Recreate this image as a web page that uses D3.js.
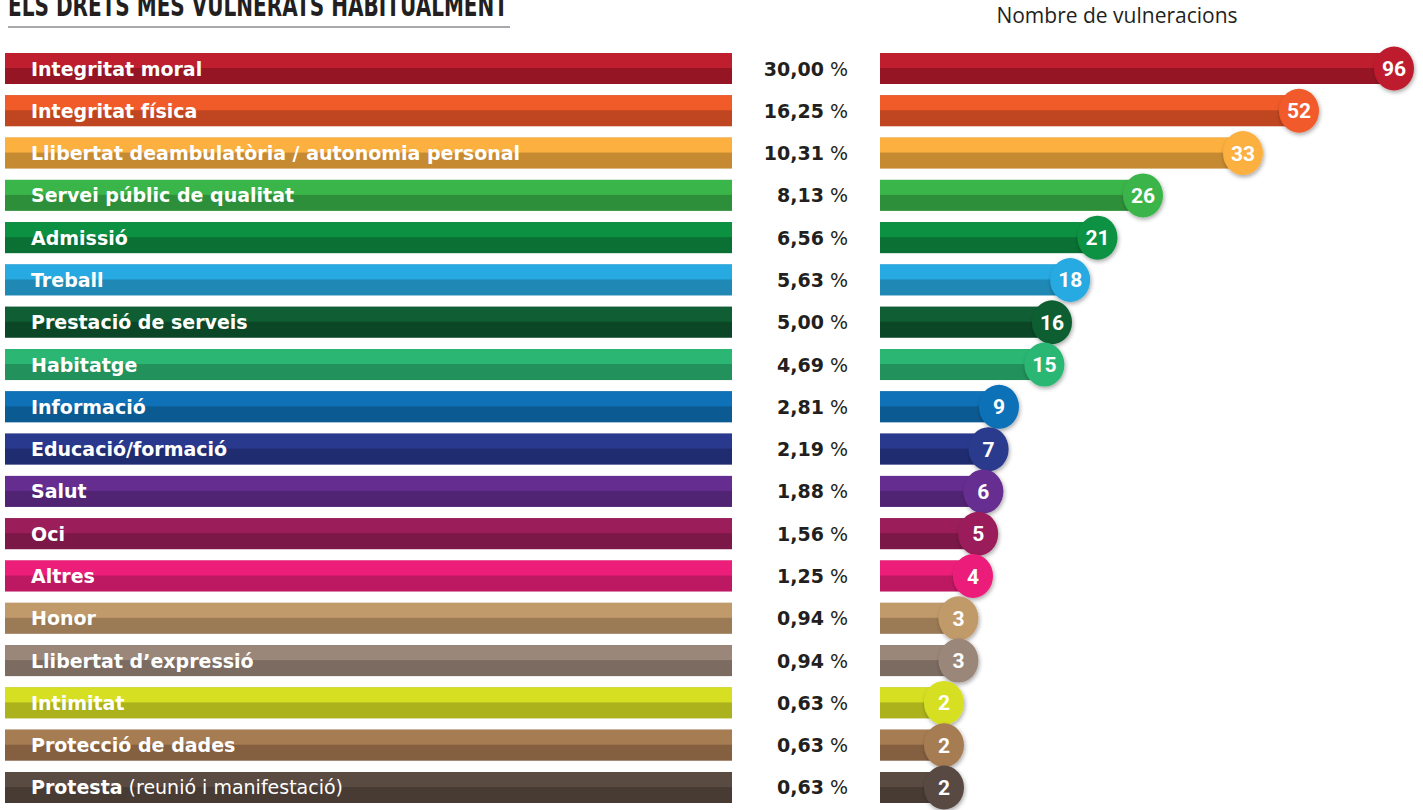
<!DOCTYPE html>
<html>
<head>
<meta charset="utf-8">
<script src="https://cdn.jsdelivr.net/npm/d3@7"></script>
<style>
  body { margin: 0; background: #fff; }
  svg { display: block; }
</style>
</head>
<body>
<div id="okvir"></div>
<script>
// dades
var drets = ["Integritat moral", "Integritat física", "Llibertat deambulatòria / autonomia personal",
  "Servei públic de qualitat", "Admissió", "Treball", "Prestació de serveis", "Habitatge",
  "Informació", "Educació/formació", "Salut", "Oci", "Altres", "Honor",
  "Llibertat d\u2019expressió", "Intimitat", "Protecció de dades", "Protesta"];
var notes = ["", "", "", "", "", "", "", "", "", "", "", "", "", "", "", "", "", " (reunió i manifestació)"];
var percentatges = ["30,00", "16,25", "10,31", "8,13", "6,56", "5,63", "5,00", "4,69", "2,81",
  "2,19", "1,88", "1,56", "1,25", "0,94", "0,94", "0,63", "0,63", "0,63"];
var vulneracions = [96, 52, 33, 26, 21, 18, 16, 15, 9, 7, 6, 5, 4, 3, 3, 2, 2, 2];
var colorsClars = ["#be1e2d", "#f15a29", "#fbb040", "#3ab54a", "#0c9142", "#27aae1", "#105e33", "#2bb673",
  "#0f71b8", "#293a8e", "#662d91", "#9b1e5a", "#ec1e7a", "#c19a6b", "#9a877a", "#d7df23", "#a67c52", "#594a42"];
var colorsFoscos = ["#961525", "#bf4620", "#c68a33", "#2e8f3a", "#0a7033", "#1f88b4", "#0b4626", "#22915b",
  "#0c5a92", "#1f2d70", "#512473", "#7b1848", "#bd1862", "#9a7b55", "#7b6b61", "#abb21c", "#845f40", "#473b34"];

var width = 1423, height = 810;
var files = drets.map((d, i) => ({ dret: d, nota: notes[i], pct: percentatges[i], n: vulneracions[i], clar: colorsClars[i], fosc: colorsFoscos[i] }));

var svg = d3.select("#okvir").append("svg")
  .attr("width", width)
  .attr("height", height);

// ombra dels cercles
svg.append("defs").append("filter")
  .attr("id", "ombra")
  .attr("x", "-50%").attr("y", "-50%").attr("width", "200%").attr("height", "200%")
  .append("feDropShadow")
  .attr("dx", 1).attr("dy", 2).attr("stdDeviation", 2.2)
  .attr("flood-color", "#000").attr("flood-opacity", 0.35);

// escala vertical de les files
var y = d3.scaleBand()
  .domain(drets)
  .range([53, 803])
  .paddingInner(0.267)
  .paddingOuter(0);

// escala horitzontal del nombre de vulneracions (el disseny original no és lineal)
var x = d3.scaleLinear()
  .domain([0, 2, 4, 9, 16, 26, 33, 52, 96])
  .range([918, 944, 973, 999, 1052, 1143, 1243, 1299, 1394]);

// títol
svg.append("text")
  .attr("x", 8)
  .attr("y", 16)
  .attr("textLength", 500)
  .attr("lengthAdjust", "spacingAndGlyphs")
  .style("font-family", "'DejaVu Sans', sans-serif")
  .style("font-weight", "bold")
  .style("font-size", "30px")
  .style("fill", "#231f20")
  .text("ELS DRETS MÉS VULNERATS HABITUALMENT");

svg.append("line")
  .attr("x1", 8).attr("x2", 510)
  .attr("y1", 27).attr("y2", 27)
  .attr("stroke", "#a7a9ac")
  .attr("stroke-width", 2);

svg.append("text")
  .attr("x", 1117)
  .attr("y", 23)
  .attr("text-anchor", "middle")
  .style("font-family", "'Open Sans', sans-serif")
  .style("font-size", "21px")
  .style("fill", "#231f20")
  .text("Nombre de vulneracions");

var fila = svg.selectAll("g.fila")
  .data(files)
  .enter()
  .append("g")
  .attr("class", "fila")
  .attr("transform", d => "translate(0," + y(d.dret) + ")");

var bh = y.bandwidth();

// barres esquerres
fila.append("rect")
  .attr("x", 5).attr("width", 727)
  .attr("height", bh)
  .attr("fill", d => d.fosc);
fila.append("rect")
  .attr("x", 5).attr("width", 727)
  .attr("height", bh / 2 - 0.5)
  .attr("fill", d => d.clar);

var etiqueta = fila.append("text")
  .attr("x", 31)
  .attr("y", bh / 2 + 7)
  .style("font-family", "'DejaVu Sans', sans-serif")
  .style("font-size", "19px")
  .style("fill", "#fff");
etiqueta.append("tspan").style("font-weight", "bold").text(d => d.dret);
etiqueta.append("tspan").style("font-weight", "normal").text(d => d.nota);

// percentatges
var pct = fila.append("text")
  .attr("x", 848)
  .attr("y", bh / 2 + 7)
  .attr("text-anchor", "end")
  .style("font-family", "'DejaVu Sans', sans-serif")
  .style("font-size", "19px")
  .style("fill", "#231f20");
pct.append("tspan").style("font-weight", "bold").text(d => d.pct);
pct.append("tspan").style("font-weight", "normal").text(" %");

// barres dretes
fila.append("rect")
  .attr("x", x(0) - 38)
  .attr("width", d => x(d.n) - x(0) + 38)
  .attr("height", bh)
  .attr("fill", d => d.fosc);
fila.append("rect")
  .attr("x", x(0) - 38)
  .attr("width", d => x(d.n) - x(0) + 38)
  .attr("height", bh / 2 - 0.5)
  .attr("fill", d => d.clar);

fila.append("ellipse")
  .attr("cx", d => x(d.n))
  .attr("cy", bh / 2)
  .attr("rx", 20)
  .attr("ry", 22)
  .attr("fill", d => d.clar)
  .attr("filter", "url(#ombra)");

fila.append("text")
  .attr("x", d => x(d.n))
  .attr("y", bh / 2 + 7.5)
  .attr("text-anchor", "middle")
  .style("font-family", "Roboto, sans-serif")
  .style("font-weight", "bold")
  .style("font-size", "21px")
  .style("fill", "#fff")
  .text(d => d.n);
</script>
</body>
</html>
